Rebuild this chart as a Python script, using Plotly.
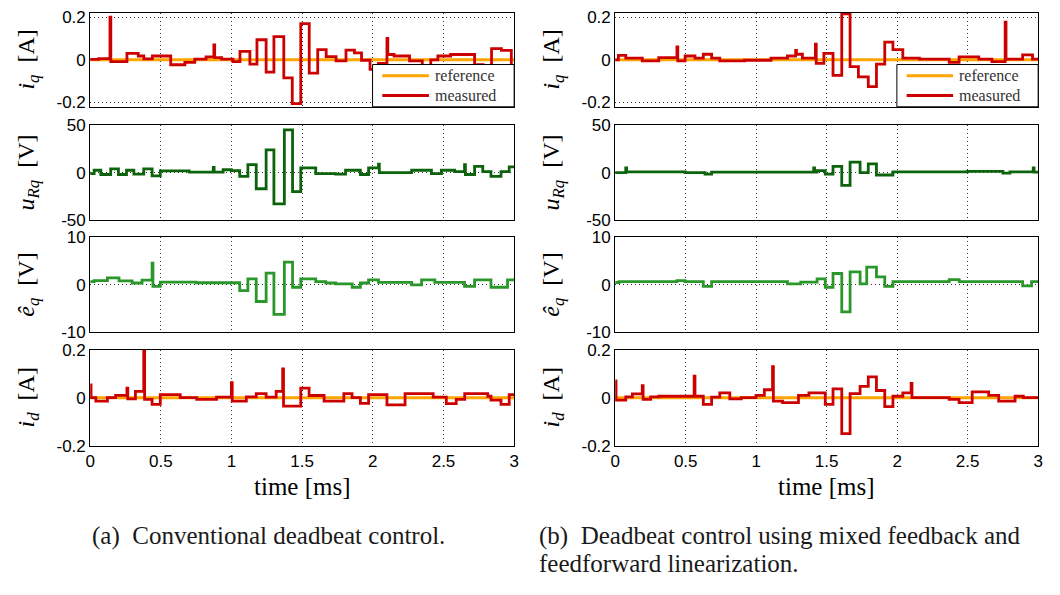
import plotly.graph_objects as go

# ---------------- data (time in ms, step start times / levels) ----------------
# (a) conventional deadbeat control
t_iq_a = [0, 0.06, 0.14, 0.146, 0.26, 0.34, 0.38, 0.44, 0.57, 0.67, 0.74, 0.82, 0.875, 0.881,
          0.93, 1.01, 1.06, 1.13, 1.18, 1.245, 1.30, 1.37, 1.43, 1.49, 1.55, 1.61, 1.67, 1.74,
          1.81, 1.87, 1.92, 1.98, 2.04, 2.10, 2.106, 2.15, 2.26, 2.35, 2.41, 2.46, 2.55, 2.72,
          2.78, 2.84, 2.91, 2.98]
iq_a = [0.002, 0.006, 0.2, -0.008, 0.03, 0.018, 0.004, 0.018, -0.023, -0.012, 0.003, 0.014, 0.07, 0.01,
        0.003, -0.008, 0.04, -0.02, 0.094, -0.058, 0.109, -0.085, -0.205, 0.17, -0.062, 0.048, 0.015, -0.005,
        0.045, 0.033, -0.002, -0.045, -0.017, 0.1, 0.025, 0.018, -0.005, -0.042, 0.0, 0.018, 0.025, -0.023,
        -0.032, 0.052, 0.044, -0.047]

t_u_a = [0, 0.028, 0.075, 0.145, 0.2, 0.257, 0.309, 0.379, 0.438, 0.496, 0.7, 0.871, 0.877, 0.941,
         0.999, 1.058, 1.116, 1.175, 1.245, 1.30, 1.374, 1.432, 1.49, 1.596, 1.737, 1.807, 1.912, 1.97,
         2.04, 2.046, 2.275, 2.415, 2.485, 2.579, 2.649, 2.655, 2.72, 2.778, 2.836, 2.907, 2.965]
u_a = [-1, 2.5, -2, 4, -2, 2.5, -1.5, 4, -3.5, 1.8, 0.5, 5.5, 0.5, 3,
       2, -4, 8.5, -17, 24, -33, 45, -20, 5, -1, -1.5, 2.5, -2, 5,
       9, 0, 2.5, -1, 2.5, 1, 8.5, -2, 6.5, 1, -4, 1, 6]

t_e_a = [0, 0.028, 0.122, 0.204, 0.297, 0.367, 0.438, 0.444, 0.496, 0.75, 1.058, 1.116, 1.175, 1.245,
         1.30, 1.374, 1.432, 1.49, 1.596, 1.667, 1.737, 1.854, 1.912, 1.97, 2.04, 2.275, 2.345, 2.439,
         2.649, 2.72, 2.836, 2.953]
e_a = [0.7, 0.9, 1.5, 0.85, 0.4, 1.0, 4.6, -0.3, 0.6, 0.45, -1.2, 1.25, -3.5, 2.5,
       -6.2, 4.8, -0.5, 1.25, 0.7, 0.4, 0.2, -0.5, 0.4, 1.05, 0.55, 0.0, 1.05, 0.55,
       -0.3, 1.05, -0.5, 1.05]

t_id_a = [0, 0.006, 0.04, 0.122, 0.18, 0.26, 0.266, 0.32, 0.379, 0.385, 0.438, 0.496, 0.637, 0.754,
          0.894, 0.999, 1.005, 1.105, 1.175, 1.245, 1.316, 1.362, 1.368, 1.49, 1.549, 1.655, 1.795,
          1.853, 1.912, 1.97, 2.1, 2.228, 2.427, 2.52, 2.59, 2.65, 2.813, 2.836, 2.907, 2.965]
id_a = [0.053, 0.0, -0.014, 0.0, 0.01, 0.04, -0.005, 0.026, 0.2, -0.007, -0.028, 0.013, 0.0, -0.007,
        0.002, 0.063, -0.014, 0.003, 0.017, 0.002, 0.026, 0.12, -0.035, 0.04, 0.009, -0.014, 0.017,
        0.0, -0.024, 0.013, -0.03, 0.017, 0.002, -0.025, -0.007, 0.017, 0.006, -0.01, -0.028, 0.013]

# (b) mixed feedback and feedforward linearization
t_iq_b = [0, 0.023, 0.075, 0.192, 0.309, 0.438, 0.444, 0.496, 0.566, 0.625, 0.684, 0.742, 0.917,
          1.105, 1.222, 1.28, 1.286, 1.328, 1.42, 1.426, 1.48, 1.545, 1.607, 1.666, 1.725, 1.795,
          1.853, 1.912, 1.97, 2.04, 2.158, 2.369, 2.439, 2.579, 2.672, 2.766, 2.772, 2.89, 2.96]
iq_b = [0.0, 0.021, 0.008, -0.005, 0.01, 0.06, -0.005, 0.018, 0.008, 0.026, 0.008, -0.005, -0.002,
        0.008, 0.018, 0.044, 0.026, 0.008, 0.074, -0.017, 0.03, -0.073, 0.215, -0.032, -0.08, -0.126,
        -0.02, 0.083, 0.048, 0.008, 0.003, -0.012, 0.014, 0.003, -0.008, 0.177, 0.003, 0.023, 0.003]

t_u_b = [0, 0.075, 0.081, 0.496, 0.637, 0.684, 1.408, 1.414, 1.432, 1.49, 1.545, 1.607, 1.666,
         1.737, 1.795, 1.853, 1.97, 2.5, 2.75, 2.8, 2.965, 2.971]
u_b = [0, 5, 0.8, 0, -1.5, 0.5, 5, 0.5, 2, -1.5, 6.6, -13.4, 11,
       0, 9.3, -2.5, 0.8, 1.2, -0.5, 0.8, 5, 0.5]

t_e_b = [0, 0.028, 0.438, 0.496, 0.625, 0.684, 1.222, 1.316, 1.432, 1.49, 1.545, 1.607, 1.666,
         1.737, 1.784, 1.853, 1.912, 1.97, 2.369, 2.44, 2.89, 2.953]
e_b = [0.5, 0.7, 0.9, 0.7, -0.3, 0.7, 0.2, 0.6, 1.25, -0.5, 2.4, -5.7, 2.75,
       0.2, 3.75, 1.7, -0.3, 0.7, 1.1, 0.7, -0.2, 0.7]

t_id_b = [0, 0.006, 0.075, 0.122, 0.192, 0.198, 0.251, 0.309, 0.56, 0.566, 0.625, 0.684, 0.742,
          0.813, 0.894, 0.999, 1.058, 1.116, 1.122, 1.187, 1.30, 1.374, 1.49, 1.545, 1.607, 1.666,
          1.737, 1.795, 1.853, 1.912, 1.97, 2.04, 2.099, 2.105, 2.369, 2.439, 2.532, 2.649, 2.72,
          2.836, 2.895]
id_b = [0.07, -0.01, 0.003, 0.016, 0.05, -0.007, 0.003, 0.006, 0.09, 0.006, -0.028, 0.002, 0.02,
        -0.005, 0.0, 0.01, 0.033, 0.13, -0.014, -0.021, 0.01, 0.02, -0.028, 0.037, -0.15, 0.017,
        0.047, 0.087, 0.03, -0.037, 0.006, 0.02, 0.06, 0.0, -0.007, -0.021, 0.024, 0.01, -0.014,
        0.006, 0.0]

T_END = 3.0
x_ticks = [0, 0.5, 1, 1.5, 2, 2.5, 3]
iq_ticks = [-0.2, 0, 0.2]
u_ticks = [-50, 0, 50]
e_ticks = [-10, 0, 10]
id_ticks = [-0.2, 0, 0.2]
legend_names = ["reference", "measured"]

# ---------------- styling ----------------
C_REF = "#FFA500"
C_MEAS = "#CC0000"
C_U = "#0B630B"
C_E = "#2A972A"
SERIF = "Liberation Serif"
SANS = "Liberation Sans"

W, H = 1060, 595
COLS = [(86, 514), (616, 1043)]
ROWS = [(4, 101), (120, 218), (236, 334), (352, 451)]
RANGES = [(-0.22, 0.22), (-50, 50), (-10, 10), (-0.2, 0.2)]
TICKS = [iq_ticks, u_ticks, e_ticks, id_ticks]
YLABELS = ["<i>i</i><sub><i>q</i></sub>\u2002[A]",
           "<i>u</i><sub><i>Rq</i></sub>\u2002[V]",
           "<i>\u00ea</i><sub><i>q</i></sub>\u2002[V]",
           "<i>i</i><sub><i>d</i></sub>\u2002[A]"]

def fmt(v):
    return "0" if v == 0 else ("%g" % v)

def steps(t, v):
    return list(t) + [T_END], list(v) + [v[-1]]

fig = go.Figure()

data = [
    [(t_iq_a, iq_a, C_MEAS, True), (t_u_a, u_a, C_U, False), (t_e_a, e_a, C_E, False), (t_id_a, id_a, C_MEAS, True)],
    [(t_iq_b, iq_b, C_MEAS, True), (t_u_b, u_b, C_U, False), (t_e_b, e_b, C_E, False), (t_id_b, id_b, C_MEAS, True)],
]

layout = dict(width=W, height=H, margin=dict(l=0, r=0, t=0, b=0),
              paper_bgcolor="white", plot_bgcolor="white", showlegend=False,
              font=dict(family=SANS, size=17, color="black"))
annotations = []
shapes = []

# legend geometry (fractions of the top panel's domain)
LEG_BOX = (0.666, 1.0, 0.0, 0.45)
LEG_LINE_X = (0.689, 0.799)
LEG_ROW_Y = [0.33, 0.12]

n = 0
for c, (x0, x1) in enumerate(COLS):
    for r, (y0, y1) in enumerate(ROWS):
        n += 1
        xa = "x" if n == 1 else "x%d" % n
        ya = "y" if n == 1 else "y%d" % n
        t, v, col, has_ref = data[c][r]
        if has_ref:
            fig.add_trace(go.Scatter(x=[0, T_END], y=[0, 0], mode="lines", name=legend_names[0],
                                     line=dict(color=C_REF, width=3), xaxis=xa, yaxis=ya))
        xs, ys = steps(t, v)
        fig.add_trace(go.Scatter(x=xs, y=ys, mode="lines", name=legend_names[1], line_shape="hv",
                                 line=dict(color=col, width=2.8), xaxis=xa, yaxis=ya))
        axis_common = dict(showline=True, mirror=True, linecolor="black", linewidth=1,
                           showgrid=True, gridcolor="#333333", griddash="1px,3px", gridwidth=1,
                           zeroline=False, ticks="", tickfont=dict(family=SANS, size=17, color="black"))
        layout["xaxis" if n == 1 else "xaxis%d" % n] = dict(
            axis_common, domain=[x0 / W, x1 / W], anchor=ya, range=[0, T_END],
            tickvals=x_ticks, ticktext=[fmt(x) for x in x_ticks], showticklabels=(r == 3))
        layout["yaxis" if n == 1 else "yaxis%d" % n] = dict(
            axis_common, domain=[1 - y1 / H, 1 - y0 / H], anchor=xa, range=list(RANGES[r]),
            tickvals=TICKS[r], ticktext=[fmt(x) for x in TICKS[r]])
        annotations.append(dict(text=YLABELS[r], xref="paper", yref="paper",
                                x=(x0 - 63) / W, y=1 - (y0 + y1) / 2 / H, textangle=-90,
                                showarrow=False, xanchor="center", yanchor="middle",
                                font=dict(family=SERIF, size=24, color="black")))
        if r == 0:
            # legend box in the lower right corner of the top panel
            dx, dy = xa + " domain", ya + " domain"
            shapes.append(dict(type="rect", xref=dx, yref=dy, x0=LEG_BOX[0], x1=LEG_BOX[1],
                               y0=LEG_BOX[2], y1=LEG_BOX[3],
                               line=dict(color="black", width=1), fillcolor="white", layer="above"))
            for k, (lc, yy) in enumerate(zip([C_REF, C_MEAS], LEG_ROW_Y)):
                shapes.append(dict(type="line", xref=dx, yref=dy, x0=LEG_LINE_X[0], x1=LEG_LINE_X[1],
                                   y0=yy, y1=yy, line=dict(color=lc, width=3), layer="above"))
                annotations.append(dict(text=legend_names[k], xref=dx, yref=dy, x=0.808, y=yy,
                                        xanchor="left", yanchor="middle", showarrow=False,
                                        font=dict(family=SERIF, size=16, color="#333333")))
    annotations.append(dict(text="time [ms]", xref="paper", yref="paper",
                            x=(x0 + x1) / 2 / W, y=1 - 493 / H, showarrow=False,
                            xanchor="center", yanchor="middle",
                            font=dict(family=SERIF, size=25, color="black")))

annotations.append(dict(text="(a)  Conventional deadbeat control.", xref="paper", yref="paper",
                        x=86 / W, y=1 - 544 / H, showarrow=False, xanchor="left", yanchor="middle",
                        font=dict(family=SERIF, size=25, color="#1a1a1a")))
annotations.append(dict(text="(b)  Deadbeat control using mixed feedback and", xref="paper", yref="paper",
                        x=537 / W, y=1 - 544 / H, showarrow=False, xanchor="left", yanchor="middle",
                        font=dict(family=SERIF, size=25, color="#1a1a1a")))
annotations.append(dict(text="feedforward linearization.", xref="paper", yref="paper",
                        x=537 / W, y=1 - 573 / H, showarrow=False, xanchor="left", yanchor="middle",
                        font=dict(family=SERIF, size=25, color="#1a1a1a")))

layout["annotations"] = annotations
layout["shapes"] = shapes

fig.update_layout(**layout)
fig.write_html("out.html")
